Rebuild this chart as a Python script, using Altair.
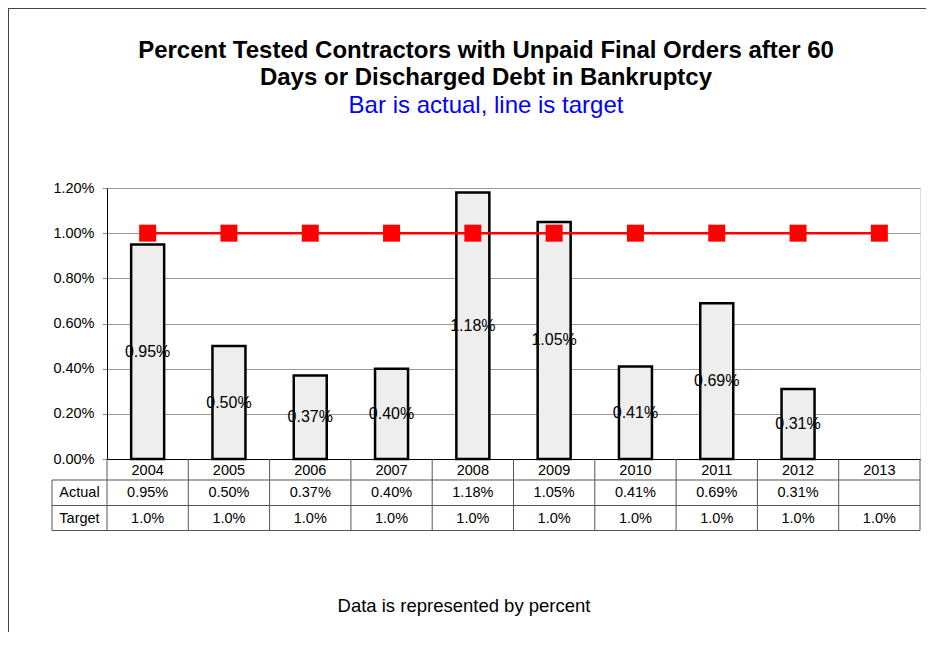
import altair as alt
import pandas as pd

FONT = "Liberation Sans"

years = ["2004", "2005", "2006", "2007", "2008", "2009", "2010", "2011", "2012", "2013"]
actual_pct = [0.95, 0.50, 0.37, 0.40, 1.18, 1.05, 0.41, 0.69, 0.31, None]
target_pct = [1.0, 1.0, 1.0, 1.0, 1.0, 1.0, 1.0, 1.0, 1.0, 1.0]
y_tick_pct = [0.0, 0.2, 0.4, 0.6, 0.8, 1.0, 1.2]
row_labels = ["Actual", "Target"]
title_lines = ["Percent Tested Contractors with Unpaid Final Orders after 60",
               "Days or Discharged Debt in Bankruptcy"]
subtitle_text = "Bar is actual, line is target"
footer_text = "Data is represented by percent"

df = pd.DataFrame({
    "year": years,
    "actual": [v / 100 if v is not None else None for v in actual_pct],
    "target": [t / 100 for t in target_pct],
    "actual_label": [f"{v:.2f}%" if v is not None else "" for v in actual_pct],
    "target_label": [f"{t:.1f}%" for t in target_pct],
})

W, H = 813, 271
ROW1, ROW2, ROW3 = H + 21, H + 46.5, H + 71.5
LEFT_COL = -55
TABLE_COLOR = "#555555"
TITLE_X = 379

x_axis = alt.Axis(title=None, labels=False, ticks=False, domain=True,
                  domainColor="black", domainWidth=1, grid=False)
x_enc = alt.X("year:N", sort=years,
              scale=alt.Scale(paddingInner=0, paddingOuter=0), axis=x_axis)
y_axis = alt.Axis(title=None, format=".2%", values=[v / 100 for v in y_tick_pct],
                  grid=True, gridColor="#999999", gridWidth=1,
                  tickColor="#999999", tickSize=5, domain=True, domainColor="black",
                  labelFont=FONT, labelFontSize=14.5, labelColor="black",
                  labelPadding=8)
y_scale = alt.Scale(domain=[0, 0.012])

base = alt.Chart(df)
valid = base.transform_filter("isValid(datum.actual)")

bars = valid.mark_bar(size=33, fill="#eeeeee", stroke="black", strokeWidth=2.5).encode(
    x=x_enc, y=alt.Y("actual:Q", scale=y_scale, axis=y_axis))

line = base.mark_line(color="#ff0000", strokeWidth=2.5).encode(
    x=x_enc, y=alt.Y("target:Q", scale=y_scale, axis=y_axis))

points = base.mark_square(size=289, color="#ff0000", opacity=1).encode(
    x=x_enc, y=alt.Y("target:Q", scale=y_scale, axis=y_axis))

bar_labels = valid.transform_calculate(mid="datum.actual / 2").mark_text(
    font=FONT, fontSize=16, color="black", baseline="middle").encode(
    x=x_enc, y=alt.Y("mid:Q", scale=y_scale, axis=y_axis), text="actual_label:N")

# data table below the plot
year_text = base.mark_text(font=FONT, fontSize=14.5, color="black", baseline="alphabetic").encode(
    x=x_enc, y=alt.value(H + 16), text="year:N")
actual_text = base.mark_text(font=FONT, fontSize=14.5, color="black", baseline="alphabetic").encode(
    x=x_enc, y=alt.value(H + 38), text="actual_label:N")
target_text = base.mark_text(font=FONT, fontSize=14.5, color="black", baseline="alphabetic").encode(
    x=x_enc, y=alt.value(H + 64), text="target_label:N")

one = pd.DataFrame({"k": [0]})
rl_actual = alt.Chart(pd.DataFrame({"label": [row_labels[0]]})).mark_text(
    font=FONT, fontSize=14.5, color="black", baseline="alphabetic").encode(
    x=alt.value(LEFT_COL / 2), y=alt.value(H + 38), text="label:N")
rl_target = alt.Chart(pd.DataFrame({"label": [row_labels[1]]})).mark_text(
    font=FONT, fontSize=14.5, color="black", baseline="alphabetic").encode(
    x=alt.value(LEFT_COL / 2), y=alt.value(H + 64), text="label:N")

col_rules = base.mark_rule(color=TABLE_COLOR, strokeWidth=1).encode(
    x=alt.X("year:N", sort=years, bandPosition=0,
            scale=alt.Scale(paddingInner=0, paddingOuter=0), axis=x_axis),
    y=alt.value(H), y2=alt.value(ROW3))
right_rule = alt.Chart(one).mark_rule(color=TABLE_COLOR, strokeWidth=1).encode(
    x=alt.value(W), y=alt.value(H), y2=alt.value(ROW3))
left_rule = alt.Chart(one).mark_rule(color=TABLE_COLOR, strokeWidth=1).encode(
    x=alt.value(LEFT_COL), y=alt.value(ROW1), y2=alt.value(ROW3))
h1 = alt.Chart(one).mark_rule(color=TABLE_COLOR, strokeWidth=1).encode(
    x=alt.value(LEFT_COL), x2=alt.value(W), y=alt.value(ROW1))
h2 = alt.Chart(one).mark_rule(color=TABLE_COLOR, strokeWidth=1).encode(
    x=alt.value(LEFT_COL), x2=alt.value(W), y=alt.value(ROW2))
h3 = alt.Chart(one).mark_rule(color=TABLE_COLOR, strokeWidth=1).encode(
    x=alt.value(LEFT_COL), x2=alt.value(W), y=alt.value(ROW3))

# titles
title1 = alt.Chart(pd.DataFrame({"t": [title_lines[0]]})).mark_text(
    font=FONT, fontSize=24, fontWeight="bold", color="black",
    baseline="alphabetic", align="center").encode(
    x=alt.value(TITLE_X), y=alt.value(-130), text="t:N")
title2 = alt.Chart(pd.DataFrame({"t": [title_lines[1]]})).mark_text(
    font=FONT, fontSize=24, fontWeight="bold", color="black",
    baseline="alphabetic", align="center").encode(
    x=alt.value(TITLE_X), y=alt.value(-103), text="t:N")
subtitle = alt.Chart(pd.DataFrame({"t": [subtitle_text]})).mark_text(
    font=FONT, fontSize=24, color="#0000ff",
    baseline="alphabetic", align="center").encode(
    x=alt.value(TITLE_X), y=alt.value(-75), text="t:N")

footer = alt.Chart(pd.DataFrame({"t": [footer_text]})).mark_text(
    font=FONT, fontSize=18.5, color="black", baseline="alphabetic", align="center").encode(
    x=alt.value(357), y=alt.value(424), text="t:N")

# outer chart border (left and top edges visible)
border_left = alt.Chart(one).mark_rule(color="#444444", strokeWidth=1).encode(
    x=alt.value(-98.5), y=alt.value(-180), y2=alt.value(444))
border_top = alt.Chart(one).mark_rule(color="#444444", strokeWidth=1).encode(
    x=alt.value(-99), x2=alt.value(W + 6), y=alt.value(-179.5))

chart = alt.layer(
    border_left, border_top,
    col_rules, right_rule, left_rule, h1, h2, h3,
    bars, line, points, bar_labels,
    year_text, actual_text, target_text, rl_actual, rl_target,
    title1, title2, subtitle, footer,
).properties(
    width=W, height=H,
    autosize=alt.AutoSizeParams(type="none"),
    padding={"left": 99, "top": 180, "right": 6, "bottom": 173},
).configure_view(stroke=None).configure(background="white")

chart.save("out.html", embed_options={"renderer": "svg", "actions": False})
